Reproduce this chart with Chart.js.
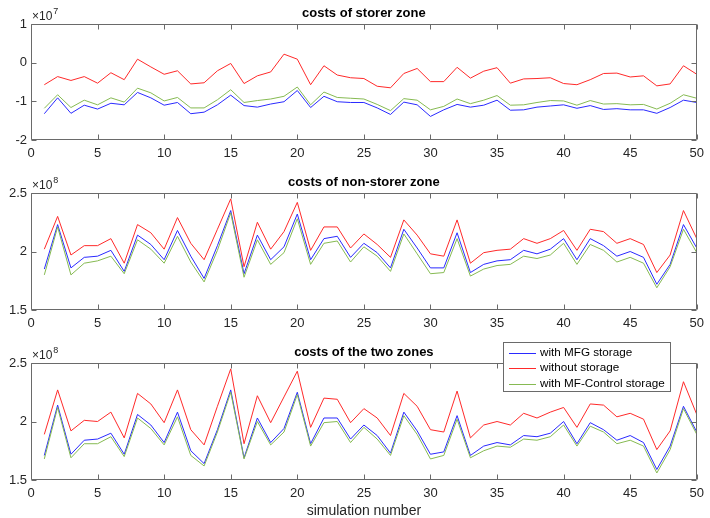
<!DOCTYPE html>
<html>
<head>
<meta charset="utf-8">
<script src="https://cdn.jsdelivr.net/npm/chart.js@4/dist/chart.umd.min.js"></script>
<style>
  html, body { margin: 0; padding: 0; background: #fff; }
  #wrap { position: relative; width: 710px; height: 518px; overflow: hidden; background: #fff; }
  canvas { position: absolute; left: 0; }
</style>
</head>
<body>
<div id="wrap">
  <canvas id="c1" width="710" height="170" style="top:0px"></canvas>
  <canvas id="c2" width="710" height="170" style="top:170px"></canvas>
  <canvas id="c3" width="710" height="178" style="top:340px"></canvas>
</div>
<script>
// ---- data ----
const simNumbers = [1,2,3,4,5,6,7,8,9,10,11,12,13,14,15,16,17,18,19,20,21,22,23,24,25,26,27,28,29,30,31,32,33,34,35,36,37,38,39,40,41,42,43,44,45,46,47,48,49,50];
const seriesNames = ['with MFG storage', 'without storage', 'with MF-Control storage'];
const panelTitles = ['costs of storer zone', 'costs of non-storer zone', 'costs of the two zones'];
const xTicks = [0,5,10,15,20,25,30,35,40,45,50];
const storerTicks = [-2,-1,0,1];          // x 10^7
const zoneTicks = [1.5,2,2.5];            // x 10^8

// costs of storer zone (x 10^7)
const storerMFG = [-1.32,-0.91,-1.31,-1.10,-1.20,-1.05,-1.09,-0.77,-0.91,-1.10,-1.03,-1.32,-1.28,-1.09,-0.84,-1.11,-1.15,-1.07,-1.01,-0.72,-1.16,-0.87,-1.01,-1.03,-1.03,-1.17,-1.34,-1.02,-1.09,-1.39,-1.22,-1.08,-1.15,-1.10,-0.97,-1.23,-1.22,-1.15,-1.12,-1.09,-1.18,-1.11,-1.21,-1.19,-1.22,-1.22,-1.31,-1.16,-0.97,-1.03];
const storerNone = [-0.57,-0.36,-0.46,-0.36,-0.53,-0.26,-0.44,0.09,-0.11,-0.30,-0.21,-0.55,-0.52,-0.21,-0.02,-0.54,-0.34,-0.24,0.22,0.09,-0.57,-0.08,-0.32,-0.39,-0.41,-0.61,-0.65,-0.28,-0.15,-0.49,-0.49,-0.12,-0.40,-0.22,-0.13,-0.53,-0.42,-0.41,-0.39,-0.54,-0.57,-0.44,-0.28,-0.27,-0.37,-0.34,-0.60,-0.55,-0.08,-0.30];
const storerMFC = [-1.18,-0.83,-1.16,-0.97,-1.09,-0.91,-1.02,-0.66,-0.78,-0.99,-0.90,-1.17,-1.17,-0.96,-0.70,-1.03,-0.98,-0.94,-0.87,-0.63,-1.09,-0.76,-0.90,-0.92,-0.94,-1.08,-1.24,-0.93,-0.97,-1.22,-1.13,-0.94,-1.06,-0.97,-0.85,-1.10,-1.09,-1.03,-0.98,-0.99,-1.10,-0.98,-1.07,-1.06,-1.09,-1.08,-1.20,-1.05,-0.83,-0.92];

// costs of non-storer zone (x 10^8)
const nonStorerMFG = [1.85,2.23,1.86,1.95,1.96,2.01,1.83,2.14,2.06,1.93,2.18,1.96,1.77,2.05,2.35,1.81,2.14,1.93,2.04,2.32,1.93,2.11,2.13,1.95,2.07,1.99,1.86,2.19,2.03,1.86,1.86,2.16,1.82,1.89,1.92,1.93,2.01,1.98,2.02,2.11,1.93,2.11,2.05,1.96,2.00,1.95,1.72,1.89,2.23,2.03];
const nonStorerNone = [2.02,2.30,1.97,2.05,2.05,2.11,1.90,2.23,2.16,2.02,2.29,2.07,1.93,2.19,2.45,1.87,2.25,2.02,2.17,2.42,2.01,2.21,2.21,2.03,2.15,2.06,1.95,2.27,2.14,1.98,1.96,2.27,1.90,1.99,2.01,2.02,2.11,2.07,2.11,2.18,2.01,2.19,2.17,2.07,2.11,2.06,1.82,1.97,2.35,2.11];
const nonStorerMFC = [1.80,2.21,1.80,1.90,1.92,1.96,1.81,2.10,2.02,1.90,2.13,1.91,1.74,2.01,2.33,1.78,2.10,1.89,1.99,2.28,1.89,2.07,2.09,1.91,2.04,1.96,1.83,2.15,1.98,1.81,1.82,2.11,1.79,1.85,1.88,1.89,1.96,1.94,1.97,2.07,1.89,2.06,2.01,1.91,1.95,1.90,1.69,1.87,2.19,1.99];

// costs of the two zones (x 10^8)
const totalMFG = [1.71,2.14,1.72,1.84,1.85,1.90,1.72,2.06,1.97,1.82,2.08,1.75,1.64,1.93,2.27,1.69,2.03,1.82,1.94,2.25,1.81,2.03,2.03,1.85,1.97,1.88,1.73,2.08,1.92,1.72,1.74,2.05,1.71,1.79,1.82,1.80,1.88,1.87,1.90,2.00,1.81,1.99,1.93,1.84,1.88,1.82,1.59,1.79,2.13,1.91];
const totalNone = [1.89,2.27,1.92,2.01,2.00,2.08,1.86,2.24,2.15,1.99,2.27,1.93,1.80,2.13,2.45,1.81,2.22,1.99,2.21,2.43,1.95,2.20,2.19,1.99,2.11,2.03,1.88,2.24,2.13,1.93,1.91,2.26,1.86,1.97,2.00,1.97,2.07,2.03,2.08,2.12,1.95,2.15,2.14,2.04,2.07,2.02,1.76,1.92,2.34,2.06];
const totalMFC = [1.68,2.12,1.69,1.81,1.81,1.87,1.70,2.03,1.94,1.80,2.04,1.71,1.62,1.91,2.25,1.68,2.00,1.80,1.91,2.23,1.79,1.99,2.00,1.82,1.95,1.85,1.71,2.05,1.89,1.68,1.71,2.02,1.69,1.75,1.79,1.78,1.85,1.84,1.87,1.97,1.79,1.96,1.91,1.81,1.84,1.79,1.56,1.76,2.11,1.89];

// ---- styling ----
const COLORS = ['#2a2aff', '#ff2a2a', '#86ba52'];
const AX = '#262626';
const BOX = '#6a6a6a';
const FONT = "'Liberation Sans', Arial, Helvetica, sans-serif";

function pts(arr) { return simNumbers.map((s, i) => ({ x: s, y: arr[i] })); }

const framePlugin = {
  id: 'frame',
  afterDraw(chart, args, o) {
    const { ctx, chartArea: a, scales: { x, y } } = chart;
    ctx.save();
    const L = Math.round(a.left) + 0.5, R = Math.round(a.right) - 0.5;
    const T = Math.round(a.top) + 0.5, B = Math.round(a.bottom) - 0.5;
    ctx.strokeStyle = BOX;
    ctx.lineWidth = 1;
    ctx.beginPath();
    ctx.rect(L, T, R - L, B - T);
    const tl = 5;
    x.ticks.forEach(t => {
      const px = Math.round(x.getPixelForValue(t.value)) + 0.5;
      ctx.moveTo(px, B); ctx.lineTo(px, B - tl);
      ctx.moveTo(px, T); ctx.lineTo(px, T + tl);
    });
    y.ticks.forEach(t => {
      const py = Math.round(y.getPixelForValue(t.value)) + 0.5;
      ctx.moveTo(L, py); ctx.lineTo(L + tl, py);
      ctx.moveTo(R, py); ctx.lineTo(R - tl, py);
    });
    ctx.stroke();

    // title
    ctx.fillStyle = '#000';
    ctx.font = 'bold 13px ' + FONT;
    ctx.textAlign = 'center';
    ctx.textBaseline = 'middle';
    ctx.fillText(o.title, (a.left + a.right) / 2, a.top - 11);

    // exponent
    ctx.fillStyle = AX;
    ctx.textAlign = 'left';
    ctx.font = '12px ' + FONT;
    const base = '\u00d710';
    ctx.fillText(base, a.left + 1, a.top - 7);
    const w = ctx.measureText(base).width;
    ctx.font = '9px ' + FONT;
    ctx.fillText(o.exp, a.left + 1 + w + 1, a.top - 12);

    if (o.xlabel) {
      ctx.fillStyle = AX;
      ctx.font = '14px ' + FONT;
      ctx.textAlign = 'center';
      ctx.fillText(o.xlabel, (a.left + a.right) / 2, a.bottom + 31);
    }
    if (o.legend) {
      const lx = 503, ly = 2, lw = 167, lh = 49;
      ctx.fillStyle = '#fff';
      ctx.fillRect(lx, ly, lw, lh);
      ctx.strokeStyle = BOX;
      ctx.strokeRect(lx + 0.5, ly + 0.5, lw, lh);
      ctx.font = '11.7px ' + FONT;
      ctx.textAlign = 'left';
      seriesNames.forEach((n, i) => {
        const yy = ly + 10.5 + i * 15.5;
        ctx.strokeStyle = COLORS[i];
        ctx.beginPath();
        ctx.moveTo(509, Math.round(yy) + 0.5); ctx.lineTo(536, Math.round(yy) + 0.5);
        ctx.stroke();
        ctx.fillStyle = '#000';
        ctx.fillText(n, 540, yy);
      });
    }
    ctx.restore();
  }
};

function makeChart(id, series, yMin, yMax, yTicks, title, exp, xScaleH, extra) {
  return new Chart(document.getElementById(id), {
    type: 'line',
    data: {
      datasets: series.map((s, i) => ({
        label: seriesNames[i],
        data: pts(s),
        borderColor: COLORS[i],
        backgroundColor: COLORS[i],
        borderWidth: 1,
        pointRadius: 0,
        tension: 0,
        fill: false,
        order: 2 - i
      }))
    },
    options: {
      responsive: false,
      animation: false,
      devicePixelRatio: 1,
      layout: { padding: { top: extra.padTop, right: 8, left: 0, bottom: 0 } },
      plugins: {
        legend: { display: false },
        tooltip: { enabled: false },
        title: { display: false },
        frame: Object.assign({ title: title, exp: exp }, extra)
      },
      scales: {
        x: {
          type: 'linear', min: 0, max: 50,
          afterBuildTicks: s => { s.ticks = xTicks.map(v => ({ value: v })); },
          ticks: { color: AX, font: { family: FONT, size: 13 }, padding: 6, maxRotation: 0, callback: v => String(v) },
          grid: { display: false, drawTicks: false },
          border: { display: false },
          afterFit: s => { s.height = xScaleH; }
        },
        y: {
          type: 'linear', min: yMin, max: yMax,
          afterBuildTicks: s => { s.ticks = yTicks.map(v => ({ value: v })); },
          ticks: { color: AX, font: { family: FONT, size: 13 }, padding: 4, callback: v => String(v) },
          grid: { display: false, drawTicks: false },
          border: { display: false },
          afterFit: s => { s.width = 31; }
        }
      }
    },
    plugins: [framePlugin]
  });
}

makeChart('c1', [storerMFG, storerNone, storerMFC], -2, 1, storerTicks, panelTitles[0], '7', 30, { padTop: 24 });
makeChart('c2', [nonStorerMFG, nonStorerNone, nonStorerMFC], 1.5, 2.5, zoneTicks, panelTitles[1], '8', 30, { padTop: 23 });
makeChart('c3', [totalMFG, totalNone, totalMFC], 1.5, 2.5, zoneTicks, panelTitles[2], '8', 38, { padTop: 23, xlabel: 'simulation number', legend: true });
</script>
</body>
</html>
